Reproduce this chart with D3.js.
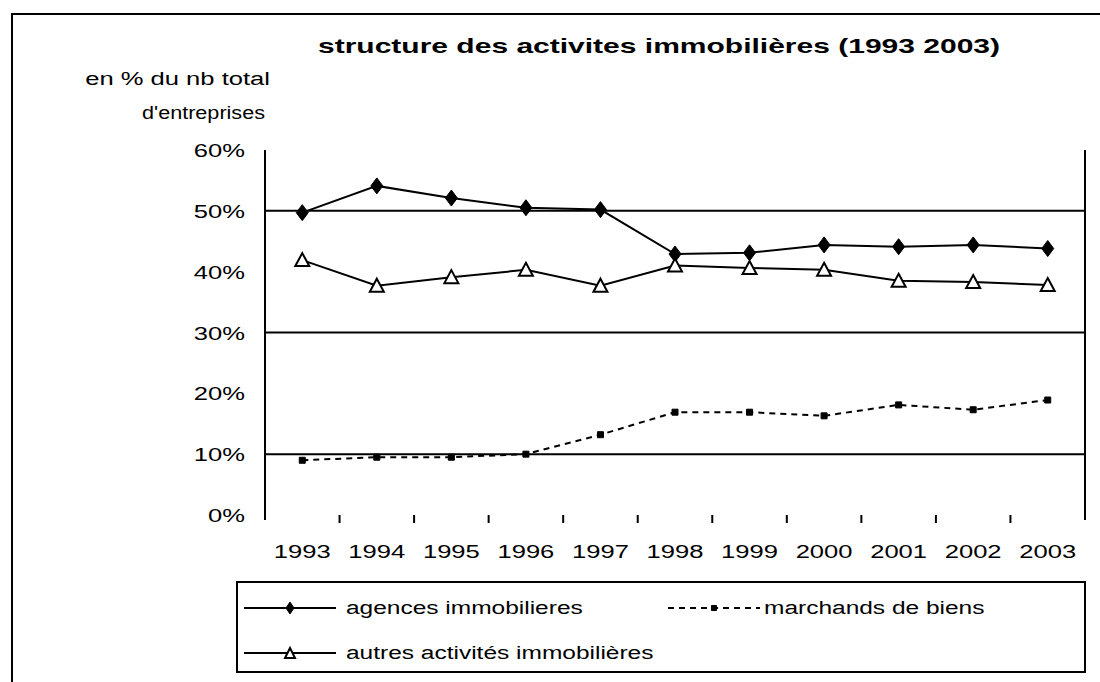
<!DOCTYPE html>
<html>
<head>
<meta charset="utf-8">
<script src="https://cdn.jsdelivr.net/npm/d3@7"></script>
<style>
    body { margin: 0; background: #fff; }
    svg text { font-family: "Liberation Sans", Arial, sans-serif; fill: #000; }
</style>
</head>
<body>
<div id="chart"></div>
<script>
'use strict';

// data (share of all firms, in %)
const years = ['1993', '1994', '1995', '1996', '1997', '1998', '1999', '2000', '2001', '2002', '2003'];
const agences = [49.7, 54.1, 52.1, 50.5, 50.2, 42.9, 43.1, 44.4, 44.1, 44.4, 43.8];
const marchands = [9.0, 9.5, 9.5, 10.0, 13.2, 16.9, 16.9, 16.3, 18.1, 17.3, 18.9];
const autres = [41.9, 37.7, 39.1, 40.3, 37.7, 41.0, 40.6, 40.3, 38.5, 38.3, 37.8];
const yTicks = [0, 10, 20, 30, 40, 50, 60];
const gridValues = [10, 30, 50];

const w = 1100;
const h = 682;

// the scanned text is stretched sideways
const stretch = 1.42;

function widen(sel, factor) {
    sel.each(function() {
        const len = this.getComputedTextLength();
        d3.select(this)
            .attr('textLength', len * factor)
            .attr('lengthAdjust', 'spacingAndGlyphs');
    });
}

const svg = d3.select('#chart')
    .append('svg')
    .attr('width', w)
    .attr('height', h);

// outer frame (only top and left edges are visible in the scan)
svg.append('path')
    .attr('d', `M12,${h} L12,14 L${w},14`)
    .attr('fill', 'none')
    .attr('stroke', '#000')
    .attr('stroke-width', 2);

// title
svg.append('text')
    .attr('x', 659)
    .attr('y', 53)
    .attr('text-anchor', 'middle')
    .style('font-size', '21px')
    .style('font-weight', 'bold')
    .text('structure des activites immobilières (1993 2003)')
    .attr('textLength', 682)
    .attr('lengthAdjust', 'spacingAndGlyphs');

// y axis title
svg.append('text')
    .attr('x', 270)
    .attr('y', 85)
    .attr('text-anchor', 'end')
    .style('font-size', '18px')
    .text('en % du nb  total')
    .call(widen, stretch);
svg.append('text')
    .attr('x', 265)
    .attr('y', 119)
    .attr('text-anchor', 'end')
    .style('font-size', '18px')
    .text("d'entreprises")
    .call(widen, 1.2);

// plot area
const plot = {left: 265, right: 1085, top: 150, bottom: 515};

const xScale = d3.scaleBand()
    .domain(years)
    .range([plot.left, plot.right]);

const yScale = d3.scaleLinear()
    .domain([0, 60])
    .range([plot.bottom, plot.top]);

const g = svg.append('g');

// gridlines
g.selectAll('.grid')
    .data(gridValues)
    .join('line')
    .attr('class', 'grid')
    .attr('x1', plot.left)
    .attr('x2', plot.right)
    .attr('y1', d => yScale(d))
    .attr('y2', d => yScale(d))
    .attr('stroke', '#000')
    .attr('stroke-width', 2);

// y axis line + right border
g.append('line')
    .attr('x1', plot.left).attr('x2', plot.left)
    .attr('y1', plot.top).attr('y2', plot.bottom + 5)
    .attr('stroke', '#000').attr('stroke-width', 2);
g.append('line')
    .attr('x1', plot.right).attr('x2', plot.right)
    .attr('y1', plot.top).attr('y2', plot.bottom + 5)
    .attr('stroke', '#000').attr('stroke-width', 2);

// y tick labels
g.selectAll('.ylab')
    .data(yTicks)
    .join('text')
    .attr('class', 'ylab')
    .attr('x', plot.left - 20)
    .attr('y', d => yScale(d) + 7)
    .attr('text-anchor', 'end')
    .style('font-size', '18px')
    .text(d => d + '%')
    .call(widen, stretch);

// x ticks between categories
const tickPos = years.slice(1).map(d => xScale(d));
g.selectAll('.xtick')
    .data(tickPos)
    .join('line')
    .attr('class', 'xtick')
    .attr('x1', d => d).attr('x2', d => d)
    .attr('y1', plot.bottom).attr('y2', plot.bottom + 8)
    .attr('stroke', '#000').attr('stroke-width', 2);

// x labels
g.selectAll('.xlab')
    .data(years)
    .join('text')
    .attr('class', 'xlab')
    .attr('x', d => xScale(d) + xScale.bandwidth() / 2)
    .attr('y', 558)
    .attr('text-anchor', 'middle')
    .style('font-size', '18px')
    .text(d => d)
    .call(widen, stretch);

const cx = (d, i) => xScale(years[i]) + xScale.bandwidth() / 2;

const lineMaker = d3.line()
    .x(cx)
    .y(d => yScale(d));

// series
const series = [
    {name: 'agences immobilieres', values: agences, dash: null, marker: 'diamond'},
    {name: 'marchands de biens', values: marchands, dash: '6,5', marker: 'square'},
    {name: 'autres activités immobilières', values: autres, dash: null, marker: 'triangle'}
];

const markerPath = {
    diamond: 'M0,-8 L6,0 L0,8 L-6,0 Z',
    square: d3.symbol(d3.symbolSquare, 36)(),
    triangle: 'M0,-7 L7,6 L-7,6 Z'
};

const legendMarkerPath = {
    diamond: 'M0,-6 L4,0 L0,6 L-4,0 Z',
    square: d3.symbol(d3.symbolSquare, 25)(),
    triangle: 'M0,-5 L5,5 L-5,5 Z'
};

function drawMarker(sel, type, paths) {
    sel.attr('d', paths[type])
        .attr('fill', type === 'triangle' ? '#fff' : '#000')
        .attr('stroke', '#000')
        .attr('stroke-width', type === 'triangle' ? 2 : 1);
}

series.forEach((s) => {
    g.append('path')
        .datum(s.values)
        .attr('d', lineMaker)
        .attr('fill', 'none')
        .attr('stroke', '#000')
        .attr('stroke-width', 2)
        .attr('stroke-dasharray', s.dash);

    g.selectAll(null)
        .data(s.values)
        .join('path')
        .attr('transform', (d, i) => `translate(${cx(d, i)},${yScale(d)})`)
        .call(drawMarker, s.marker, markerPath);
});

// legend
const legend = svg.append('g');
legend.append('rect')
    .attr('x', 237).attr('y', 582)
    .attr('width', 848).attr('height', 90)
    .attr('fill', '#fff')
    .attr('stroke', '#000')
    .attr('stroke-width', 2);

const legendPos = [
    {x: 244, y: 608},
    {x: 668, y: 608},
    {x: 244, y: 653}
];

series.forEach((s, i) => {
    const p = legendPos[i];
    const lg = legend.append('g')
        .attr('transform', `translate(${p.x},${p.y})`);
    lg.append('line')
        .attr('x1', 0).attr('x2', 92)
        .attr('y1', 0).attr('y2', 0)
        .attr('stroke', '#000')
        .attr('stroke-width', 2)
        .attr('stroke-dasharray', s.dash);
    lg.append('path')
        .attr('transform', 'translate(46,0)')
        .call(drawMarker, s.marker, legendMarkerPath);
    lg.append('text')
        .attr('x', i === 1 ? 96 : 102)
        .attr('y', 6)
        .style('font-size', '18px')
        .text(s.name)
        .call(widen, 1.36);
});
</script>
</body>
</html>
